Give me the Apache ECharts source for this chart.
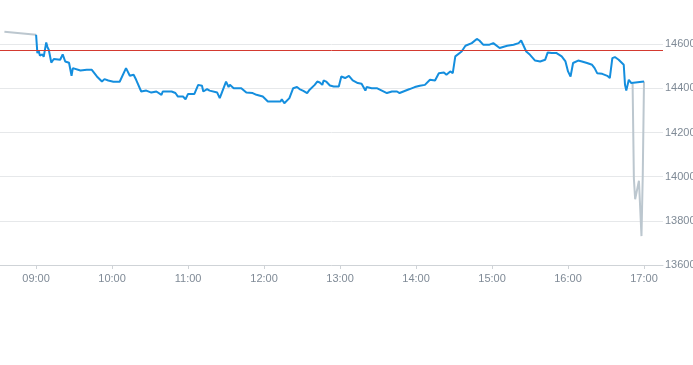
<!DOCTYPE html>
<html>
<head>
<meta charset="utf-8">
<script src="https://cdn.jsdelivr.net/npm/echarts@6/dist/echarts.min.js"></script>
<style>html,body{margin:0;padding:0;background:#fff}#c{width:693px;height:365px}</style>
</head>
<body>
<div id="c"></div>
<script>
// Pre-open segment (grey)
var preTimes = ["08:35", "09:00"];
var preValues = [14657, 14643];

// Main session (blue)
var times = ["09:00","09:01","09:02","09:03","09:05","09:06","09:08","09:09","09:10","09:12","09:14","09:19","09:21","09:23","09:26","09:28","09:29","09:35","09:40","09:44","09:48","09:52","09:54","09:57","10:01","10:06","10:11","10:14","10:17","10:19","10:23","10:27","10:31","10:35","10:39","10:40","10:47","10:50","10:52","10:56","10:58","11:00","11:05","11:08","11:11","11:12","11:15","11:17","11:23","11:25","11:26","11:29","11:30","11:32","11:33","11:36","11:42","11:46","11:51","11:54","11:59","12:03","12:07","12:13","12:14","12:16","12:20","12:23","12:26","12:28","12:31","12:34","12:36","12:40","12:42","12:44","12:46","12:47","12:49","12:52","12:55","12:59","13:01","13:04","13:07","13:10","13:14","13:17","13:20","13:21","13:25","13:29","13:33","13:37","13:41","13:45","13:47","13:50","13:55","13:59","14:03","14:07","14:11","14:15","14:18","14:22","14:24","14:27","14:29","14:31","14:32","14:36","14:39","14:44","14:48","14:50","14:53","14:58","15:01","15:06","15:12","15:17","15:21","15:23","15:27","15:30","15:34","15:38","15:42","15:44","15:47","15:51","15:55","15:58","16:00","16:02","16:04","16:08","16:11","16:15","16:19","16:21","16:23","16:27","16:31","16:33","16:35","16:37","16:40","16:41","16:44","16:45","16:46","16:48","16:50","16:51","17:00"];
var values = [14643,14560,14572,14549,14554,14543,14608,14587,14575,14517,14533,14530,14554,14522,14516,14457,14492,14481,14484,14484,14454,14431,14442,14436,14430,14430,14492,14457,14462,14439,14386,14390,14381,14386,14371,14386,14386,14379,14363,14363,14351,14375,14375,14416,14412,14386,14397,14390,14381,14356,14371,14416,14431,14406,14416,14401,14401,14381,14379,14371,14363,14341,14341,14341,14351,14333,14356,14401,14406,14397,14389,14379,14394,14416,14431,14427,14416,14436,14431,14413,14409,14409,14454,14447,14457,14436,14424,14421,14390,14406,14401,14401,14390,14379,14386,14386,14379,14386,14397,14406,14412,14416,14439,14436,14469,14472,14462,14477,14469,14545,14537,14567,14593,14605,14624,14617,14598,14598,14605,14583,14593,14598,14605,14617,14567,14552,14526,14522,14530,14563,14560,14560,14545,14522,14477,14454,14515,14526,14522,14515,14507,14492,14469,14466,14457,14447,14537,14542,14530,14522,14507,14416,14390,14439,14424,14421,14431];

// Closing segment (grey)
var postTimes = ["16:51","16:52","16:53","16:56","16:58","16:59","16:59","17:00"];
var postValues = [14421,13993,13898,13982,13731,14000,14008,14431];

var prevClose = 14575;
var hourTicks = ["09:00","10:00","11:00","12:00","13:00","14:00","15:00","16:00","17:00"];

function toMin(s){ var p = s.split(":"); return (+p[0])*60 + (+p[1]); }
function pad(n){ return (n < 10 ? "0" : "") + n; }
function fmt(m){ return pad(Math.floor(m/60)) + ":" + pad(Math.round(m%60)); }
function zip(t, v){ return t.map(function(s, i){ return [toMin(s), v[i]]; }); }

var hourVals = hourTicks.map(toMin);
var labelColor = "#7f8a96";

var chart = echarts.init(document.getElementById("c"), null, {renderer: "canvas"});
chart.setOption({
  animation: false,
  grid: {left: 0, right: 30, top: 31, bottom: 100, containLabel: false, outerBoundsMode: "none"},
  xAxis: {
    type: "value",
    min: 511.5,
    max: 1035,
    axisLine: {show: true, lineStyle: {color: "#cfd3d7", width: 1}},
    axisTick: {show: true, customValues: hourVals, length: 4, lineStyle: {color: "#cfd3d7"}},
    axisLabel: {
      customValues: hourVals,
      formatter: function(v){ return fmt(v); },
      color: labelColor,
      fontSize: 11,
      fontFamily: "Liberation Sans, Arial, sans-serif",
      margin: 8
    },
    splitLine: {show: false}
  },
  yAxis: {
    type: "value",
    position: "right",
    min: 13600,
    max: 14660,
    interval: 200,
    axisLine: {show: false},
    axisTick: {show: false},
    axisLabel: {
      color: labelColor,
      fontSize: 11,
      fontFamily: "Liberation Sans, Arial, sans-serif",
      margin: 2,
      showMaxLabel: false,
      formatter: function(v){ return String(v); }
    },
    splitLine: {show: true, showMaxLine: false, lineStyle: {color: "#e6e8ea", width: 1}}
  },
  series: [
    {
      type: "line",
      data: zip(preTimes, preValues),
      showSymbol: false,
      lineStyle: {color: "#bcc7cf", width: 2},
      z: 2
    },
    {
      type: "line",
      data: zip(times, values),
      showSymbol: false,
      lineStyle: {color: "#148ede", width: 2},
      z: 3,
      markLine: {
        silent: true,
        symbol: ["none", "none"],
        label: {show: false},
        lineStyle: {color: "#d43a30", width: 1, type: "solid"},
        data: [{yAxis: prevClose}]
      }
    },
    {
      type: "line",
      data: zip(postTimes, postValues),
      showSymbol: false,
      lineStyle: {color: "#bcc7cf", width: 2},
      z: 2
    }
  ]
});
</script>
</body>
</html>
